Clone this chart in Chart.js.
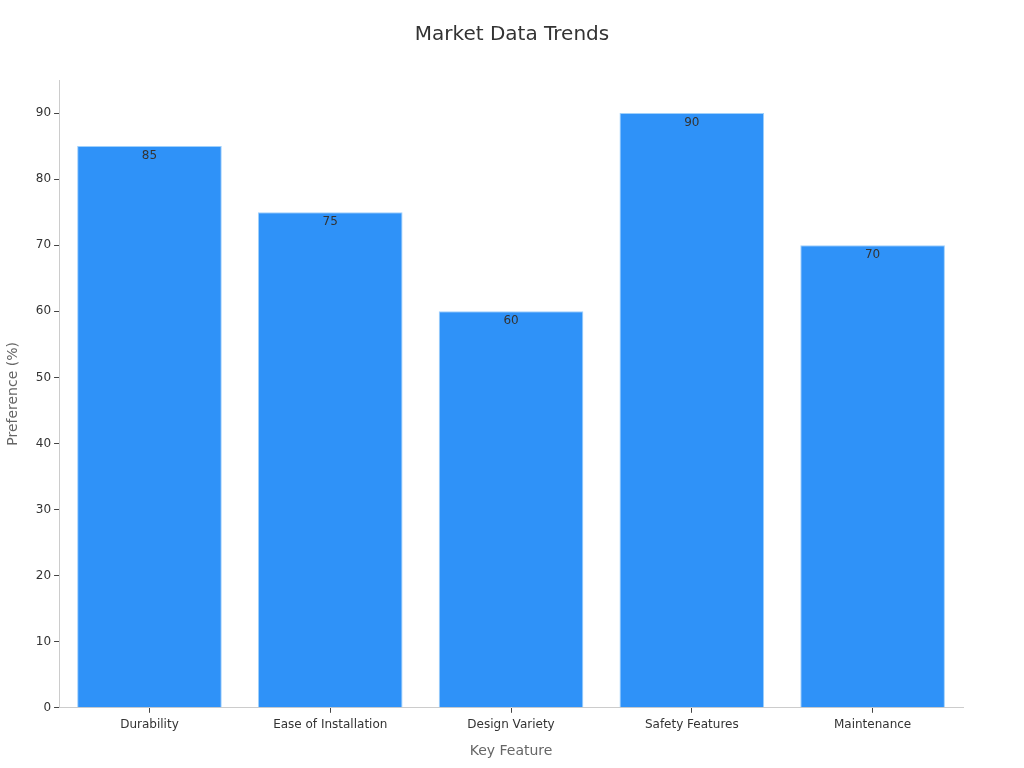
<!DOCTYPE html>
<html lang="en">
<head>
    <meta charset="UTF-8">
    <title>Market Data Trends</title>
    <script src="https://cdn.jsdelivr.net/npm/chart.js"></script>
    <style>
        html, body {
            margin: 0;
            padding: 0;
            background: #ffffff;
        }
        .wrap {
            width: 1024px;
            height: 768px;
        }
    </style>
</head>
<body>
    <div class="wrap">
        <canvas id="marketChart" width="1024" height="768"></canvas>
    </div>

    <script>
        // data
        const features = ['Durability', 'Ease of Installation', 'Design Variety', 'Safety Features', 'Maintenance'];
        const preference = [85, 75, 60, 90, 70];
        const yTicks = [0, 10, 20, 30, 40, 50, 60, 70, 80, 90];
        const chartTitle = 'Market Data Trends';

        Chart.defaults.font.family = '"DejaVu Sans", sans-serif';

        // value labels inside the top of each bar + title centred on the whole canvas
        const extras = {
            id: 'extras',
            afterDatasetsDraw(chart) {
                const ctx = chart.ctx;
                const meta = chart.getDatasetMeta(0);
                ctx.save();
                ctx.font = '12px "DejaVu Sans", sans-serif';
                ctx.fillStyle = '#333333';
                ctx.textAlign = 'center';
                ctx.textBaseline = 'middle';
                meta.data.forEach((bar, i) => {
                    ctx.fillText(String(preference[i]), bar.x, bar.y + 10);
                });

                ctx.font = '20px "DejaVu Sans", sans-serif';
                ctx.fillText(chartTitle, chart.width / 2, 35);
                ctx.restore();
            }
        };

        const ctx = document.getElementById('marketChart').getContext('2d');
        new Chart(ctx, {
            type: 'bar',
            data: {
                labels: features,
                datasets: [{
                    label: 'Preference (%)',
                    data: preference,
                    backgroundColor: '#2f92f8',
                    borderColor: '#9fd0fb',
                    borderWidth: 1,
                    barPercentage: 0.8,
                    categoryPercentage: 1.0
                }]
            },
            options: {
                responsive: false,
                animation: false,
                layout: {
                    padding: { left: 5, right: 61, top: 80, bottom: 4 }
                },
                plugins: {
                    legend: { display: false },
                    tooltip: { enabled: false },
                    title: { display: false }
                },
                scales: {
                    y: {
                        min: 0,
                        max: 95,
                        afterBuildTicks(axis) {
                            axis.ticks = yTicks.map(v => ({ value: v }));
                        },
                        title: {
                            display: true,
                            text: 'Preference (%)',
                            color: '#666666',
                            font: { size: 14 },
                            padding: { top: 0, bottom: 11 }
                        },
                        ticks: {
                            color: '#333333',
                            font: { size: 12 },
                            padding: 3
                        },
                        grid: {
                            drawOnChartArea: false,
                            drawTicks: true,
                            tickLength: 5,
                            color: '#444444'
                        },
                        border: { display: true, color: '#cccccc' }
                    },
                    x: {
                        title: {
                            display: true,
                            text: 'Key Feature',
                            color: '#666666',
                            font: { size: 14 },
                            padding: { top: 6 }
                        },
                        ticks: {
                            color: '#333333',
                            font: { size: 12 },
                            padding: 5
                        },
                        grid: {
                            offset: false,
                            drawOnChartArea: false,
                            drawTicks: true,
                            tickLength: 5,
                            color: '#444444'
                        },
                        border: { display: true, color: '#cccccc' }
                    }
                }
            },
            plugins: [extras]
        });
    </script>
</body>
</html>
